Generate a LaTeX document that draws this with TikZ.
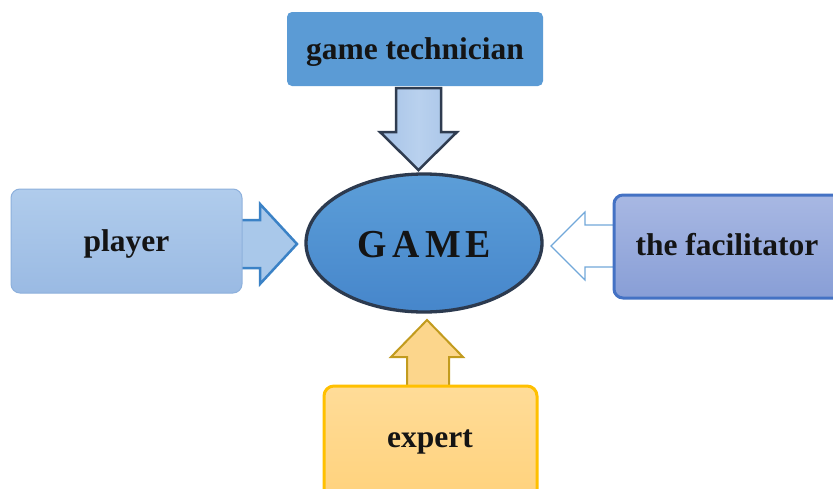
\documentclass[tikz,border=0pt]{standalone}
\usepackage{fontspec}
\setmainfont{Liberation Serif}
\usetikzlibrary{shapes.geometric}
\definecolor{techblue}{HTML}{5B9BD5}
\definecolor{gametop}{HTML}{5C9ED8}
\definecolor{gamebot}{HTML}{4686CB}
\definecolor{gameedge}{HTML}{2C3A4F}
\definecolor{playtop}{HTML}{B0CCEC}
\definecolor{playbot}{HTML}{9ABAE3}
\definecolor{playedge}{HTML}{8DB0DC}
\definecolor{factop}{HTML}{A8B8E3}
\definecolor{facbot}{HTML}{889ED6}
\definecolor{facedge}{HTML}{4472C4}
\definecolor{exptop}{HTML}{FFDC98}
\definecolor{expbot}{HTML}{FFD27C}
\definecolor{expedge}{HTML}{FFC000}
\definecolor{arrtop}{HTML}{A7C3E7}
\definecolor{arrtopmid}{HTML}{B9D1EE}
\definecolor{arrtopedge}{HTML}{2F3C50}
\definecolor{arrleft}{HTML}{A9C8EA}
\definecolor{arrleftedge}{HTML}{3B82C6}
\definecolor{arrrightedge}{HTML}{72A8DA}
\definecolor{arrbot}{HTML}{FCD68C}
\definecolor{arrbotedge}{HTML}{C29B1E}
\tikzset{
  lbl/.style={font=\bfseries\fontsize{31.5}{36}\selectfont, text=black!92, anchor=base, inner sep=0pt},
}
\begin{document}
\begin{tikzpicture}[x=1pt,y=-1pt]
\useasboundingbox (0,0) rectangle (833,488);
\fill[white] (0,0) rectangle (833,488);

% arrows (drawn first)
\shade[left color=arrtop, right color=arrtop, middle color=arrtopmid, draw=arrtopedge, line width=2.5pt, line join=miter]
  (396,88) -- (441,88) -- (441,132) -- (457,132) -- (418.5,170) -- (380,132) -- (396,132) -- cycle;
\draw[fill=arrleft, draw=arrleftedge, line width=2.5pt, line join=miter]
  (240,220) -- (260,220) -- (260,204) -- (297,244) -- (260,284) -- (260,268) -- (240,268) -- cycle;
\draw[fill=white, draw=arrrightedge, line width=1.2pt, line join=miter]
  (615,225) -- (585,225) -- (585,212) -- (551,246) -- (585,280) -- (585,267) -- (615,267) -- cycle;
\draw[fill=arrbot, draw=arrbotedge, line width=2pt, line join=miter]
  (407,388) -- (407,357) -- (391,357) -- (427,320) -- (463,357) -- (449,357) -- (449,388) -- cycle;

% boxes
\node[draw=none, fill=techblue, rounded corners=5pt, minimum width=256pt, minimum height=74pt, inner sep=0pt] (tech) at (415,49) {};
\node[lbl] at (415,59) {game technician};

\shade[top color=playtop, bottom color=playbot, draw=playedge, line width=1pt, rounded corners=9pt]
  (11,189) rectangle (242,293);
\node[inner sep=0pt, minimum width=231pt, minimum height=104pt] (player) at (126.5,241) {};
\node[lbl] at (126.5,251) {player};

\shade[top color=factop, bottom color=facbot, draw=facedge, line width=3pt, rounded corners=9pt]
  (614,195) rectangle (845,298);
\node[inner sep=0pt, minimum width=231pt, minimum height=103pt] (fac) at (729,246) {};
\node[lbl] at (727,255) {the facilitator};

\shade[top color=exptop, bottom color=expbot, draw=expedge, line width=3pt, rounded corners=10pt]
  (324,386) rectangle (537,500);
\node[inner sep=0pt, minimum width=213pt, minimum height=114pt] (expert) at (430.5,443) {};
\node[lbl] at (430,447) {expert};

% central ellipse
\shade[top color=gametop, bottom color=gamebot, draw=gameedge, line width=3.3pt]
  (424,243) ellipse [x radius=118pt, y radius=69pt];
\node[ellipse, inner sep=0pt, minimum width=236pt, minimum height=138pt] (game) at (424,243) {};
\node[anchor=base, inner sep=0pt, text=black!92] at (424.5,257)
  {\scalebox{1.05}[1.1]{\bfseries\fontsize{36}{40}\selectfont G\hspace{5pt}A\hspace{5pt}M\hspace{5pt}E}};
\end{tikzpicture}
\end{document}
